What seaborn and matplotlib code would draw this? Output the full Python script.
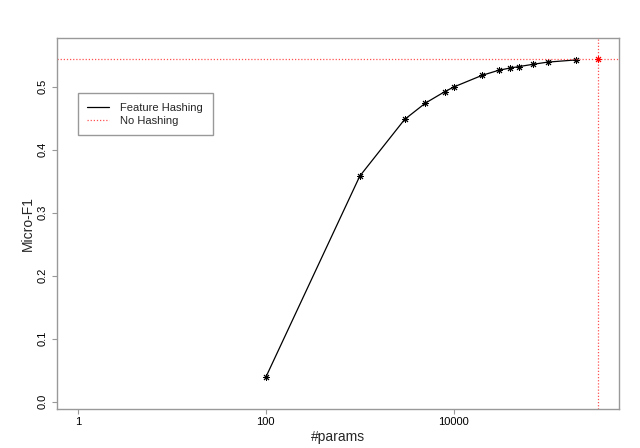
import matplotlib
matplotlib.use("Agg")
import matplotlib.pyplot as plt
import seaborn as sns
import pandas as pd

params = [100, 1000, 3000, 5000, 8000, 10000, 20000, 30000, 40000, 50000, 70000, 100000, 200000]
micro_f1 = [0.0387, 0.358, 0.448, 0.474, 0.492, 0.4995, 0.518, 0.526, 0.5297, 0.532, 0.5356, 0.539, 0.5425]
no_hash_params = 345000
no_hash_f1 = 0.544
x_ticks = [1, 100, 10000]
x_tick_labels = ["1", "100", "10000"]
y_ticks = [0.0, 0.1, 0.2, 0.3, 0.4, 0.5]
y_tick_labels = ["0.0", "0.1", "0.2", "0.3", "0.4", "0.5"]

sns.set_style("white")
plt.rcParams['font.family'] = ['Liberation Sans', 'DejaVu Sans']

df = pd.DataFrame({"params": params, "f1": micro_f1})

fig = plt.figure(figsize=(6.4, 4.48), dpi=100)
ax = fig.add_axes([0.0895, 0.087, 0.8775, 0.8275])

sns.lineplot(data=df, x="params", y="f1", ax=ax, color="black", linewidth=0.9,
             marker=(8, 2, 0), markersize=5, markeredgewidth=0.7, markeredgecolor="black",
             label="Feature Hashing")
ax.set_xscale("log")
red = "#ff3333"
ax.axhline(no_hash_f1, color=red, linestyle=(0, (1, 1.5)), linewidth=0.9, alpha=0.85,
           label="No Hashing")
ax.axvline(no_hash_params, color=red, linestyle=(0, (1, 1.5)), linewidth=0.9, alpha=0.85)
ax.plot([no_hash_params], [no_hash_f1], linestyle="none", marker=(8, 2, 0), markersize=5,
        markeredgewidth=0.7, color="red")

ax.set_xlim(0.605, 571600)
ax.set_ylim(-0.0116, 0.5768)
ax.set_xticks(x_ticks)
ax.set_xticklabels(x_tick_labels)
ax.minorticks_off()
ax.set_yticks(y_ticks)
ax.set_yticklabels(y_tick_labels, rotation=90, va="center")

for s in ax.spines.values():
    s.set_color("#999999")
    s.set_linewidth(1)
ax.tick_params(axis="both", which="major", direction="out", length=3.6, width=0.8,
               color="#999999", labelsize=8, labelcolor="black",
               bottom=True, left=True)
ax.tick_params(axis="x", pad=2.0)
ax.tick_params(axis="y", pad=3.0)
ax.set_xlabel("#params", fontsize=10, labelpad=2.0)
ax.set_ylabel("Micro-F1", fontsize=10, labelpad=2.0)

leg = ax.legend(loc="upper left", bbox_to_anchor=(0.0363, 0.8516), borderaxespad=0,
                frameon=True, fancybox=False, framealpha=1, edgecolor="#999999",
                fontsize=8, handlelength=2.0, borderpad=0.85, labelspacing=0.25,
                handletextpad=1.0)
leg.get_frame().set_linewidth(1)
for h in leg.legend_handles:
    h.set_marker("")

fig.savefig("out.png", dpi=100)
